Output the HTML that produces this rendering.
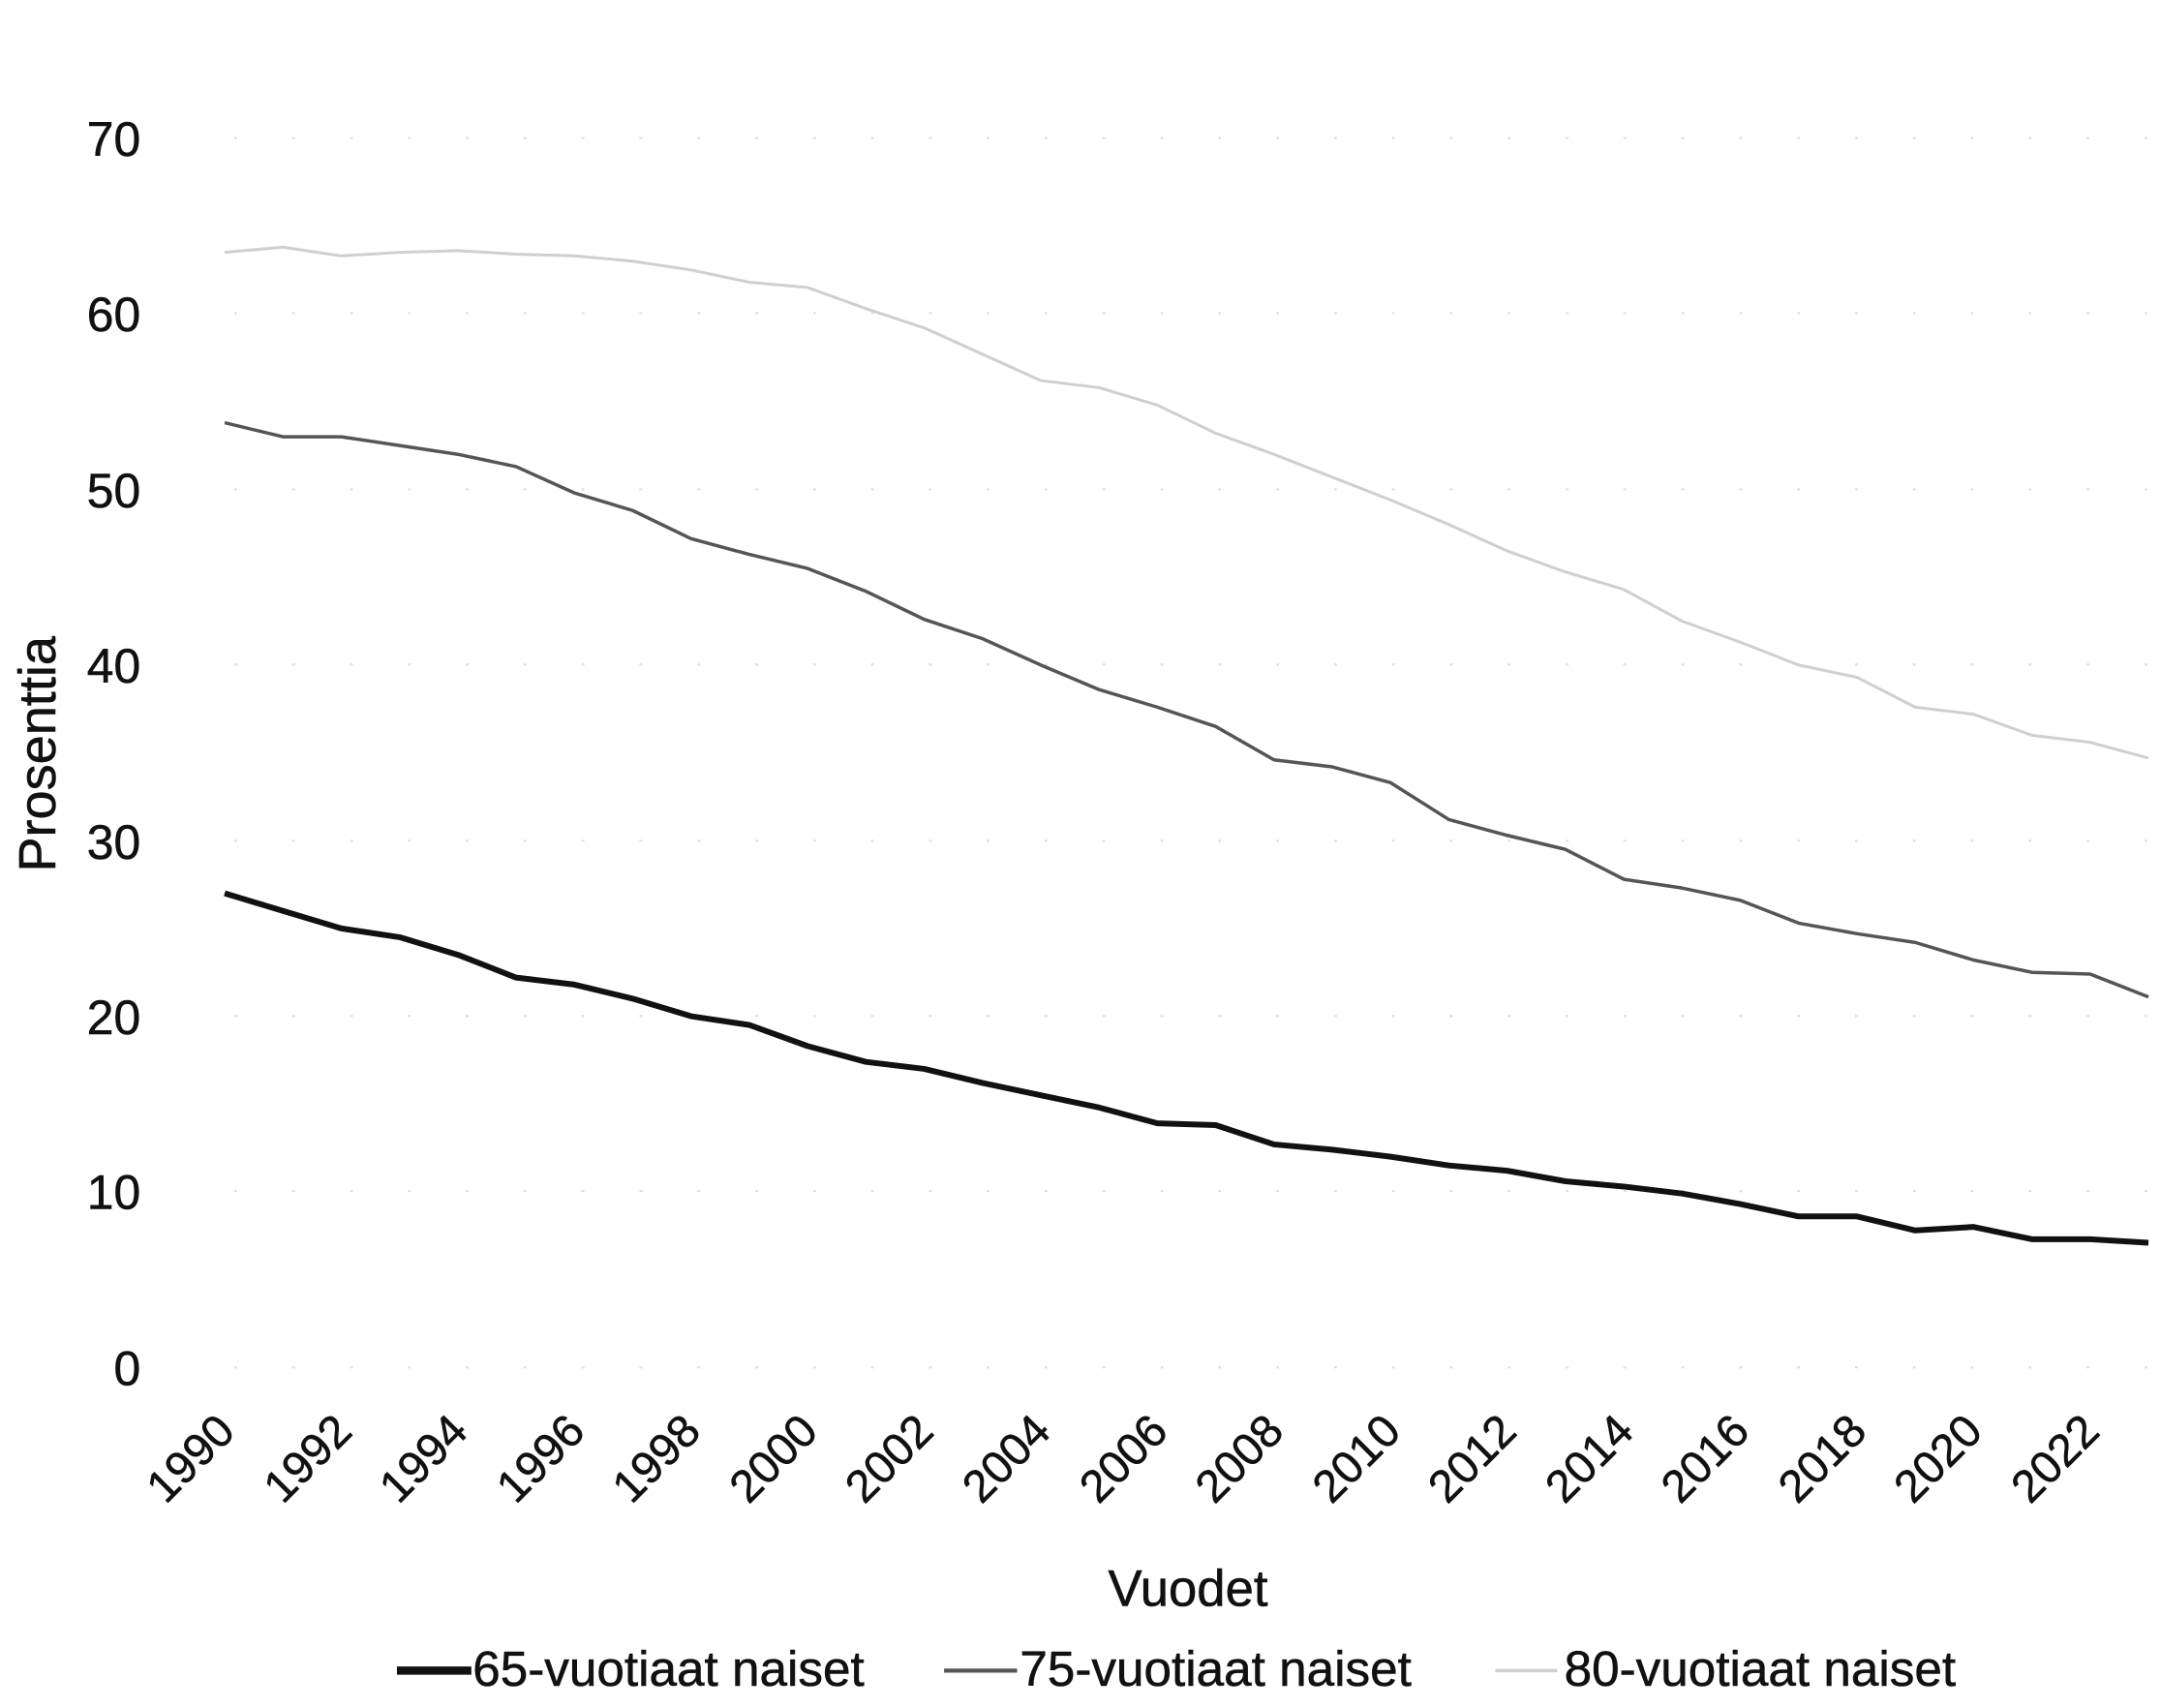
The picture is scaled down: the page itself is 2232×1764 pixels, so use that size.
<!DOCTYPE html>
<html><head><meta charset="utf-8"><style>
html,body{margin:0;padding:0;background:#fff;}
svg{display:block;}
text{font-family:"Liberation Sans",sans-serif;fill:#111;stroke:#111;stroke-width:0.4;}
</style></head><body>
<svg width="2232" height="1764" viewBox="0 0 1568 1239" xmlns="http://www.w3.org/2000/svg">
<rect width="1568" height="1239" fill="#fff"/>
<g stroke="#ddd" stroke-width="1.5" stroke-dasharray="2 40">
<line x1="170" y1="100" x2="1560" y2="100"/>
<line x1="170" y1="227" x2="1560" y2="227"/>
<line x1="170" y1="355" x2="1560" y2="355"/>
<line x1="170" y1="482" x2="1560" y2="482"/>
<line x1="170" y1="610" x2="1560" y2="610"/>
<line x1="170" y1="737" x2="1560" y2="737"/>
<line x1="170" y1="864" x2="1560" y2="864"/>
<line x1="170" y1="992" x2="1560" y2="992"/>
</g>
<g font-size="35" text-anchor="end">
<text x="102" y="113">70</text>
<text x="102" y="240">60</text>
<text x="102" y="368">50</text>
<text x="102" y="495">40</text>
<text x="102" y="623">30</text>
<text x="102" y="750">20</text>
<text x="102" y="877">10</text>
<text x="102" y="1005">0</text>
</g>
<text transform="translate(40,547) rotate(-90)" font-size="38" text-anchor="middle">Prosenttia</text>
<g font-size="33" text-anchor="end">
<text transform="translate(172,1040) rotate(-45)">1990</text>
<text transform="translate(257,1040) rotate(-45)">1992</text>
<text transform="translate(341,1040) rotate(-45)">1994</text>
<text transform="translate(426,1040) rotate(-45)">1996</text>
<text transform="translate(510,1040) rotate(-45)">1998</text>
<text transform="translate(595,1040) rotate(-45)">2000</text>
<text transform="translate(679,1040) rotate(-45)">2002</text>
<text transform="translate(764,1040) rotate(-45)">2004</text>
<text transform="translate(849,1040) rotate(-45)">2006</text>
<text transform="translate(933,1040) rotate(-45)">2008</text>
<text transform="translate(1018,1040) rotate(-45)">2010</text>
<text transform="translate(1102,1040) rotate(-45)">2012</text>
<text transform="translate(1187,1040) rotate(-45)">2014</text>
<text transform="translate(1271,1040) rotate(-45)">2016</text>
<text transform="translate(1356,1040) rotate(-45)">2018</text>
<text transform="translate(1440,1040) rotate(-45)">2020</text>
<text transform="translate(1525,1040) rotate(-45)">2022</text>
</g>
<text x="862" y="1165" font-size="37" text-anchor="middle">Vuodet</text>
<g transform="translate(163,992) scale(42.3,-12.74)" fill="none" stroke-linejoin="round">
<polyline vector-effect="non-scaling-stroke" stroke="#cfcfcf" stroke-width="3" points="0,63.5 1,63.8 2,63.3 3,63.5 4,63.6 5,63.4 6,63.3 7,63 8,62.5 9,61.8 10,61.5 11,60.3 12,59.2 13,57.7 14,56.2 15,55.8 16,54.8 17,53.2 18,52 19,50.7 20,49.4 21,48 22,46.5 23,45.3 24,44.3 25,42.5 26,41.3 27,40 28,39.3 29,37.6 30,37.2 31,36 32,35.6 33,34.7"/>
<polyline vector-effect="non-scaling-stroke" stroke="#555" stroke-width="3.5" points="0,53.8 1,53 2,53 3,52.5 4,52 5,51.3 6,49.8 7,48.8 8,47.2 9,46.3 10,45.5 11,44.2 12,42.6 13,41.5 14,40 15,38.6 16,37.6 17,36.5 18,34.6 19,34.2 20,33.3 21,31.2 22,30.3 23,29.5 24,27.8 25,27.3 26,26.6 27,25.3 28,24.7 29,24.2 30,23.2 31,22.5 32,22.4 33,21.1"/>
<polyline vector-effect="non-scaling-stroke" stroke="#111" stroke-width="6" points="0,27 1,26 2,25 3,24.5 4,23.5 5,22.2 6,21.8 7,21 8,20 9,19.5 10,18.3 11,17.4 12,17 13,16.2 14,15.5 15,14.8 16,13.9 17,13.8 18,12.7 19,12.4 20,12 21,11.5 22,11.2 23,10.6 24,10.3 25,9.9 26,9.3 27,8.6 28,8.6 29,7.8 30,8 31,7.3 32,7.3 33,7.1"/>
</g>
<line x1="288" y1="1212" x2="342" y2="1212" stroke="#111" stroke-width="6"/>
<text x="343" y="1223" font-size="36">65-vuotiaat naiset</text>
<line x1="685" y1="1212" x2="738" y2="1212" stroke="#555" stroke-width="3"/>
<text x="740" y="1223" font-size="36">75-vuotiaat naiset</text>
<line x1="1085" y1="1212" x2="1130" y2="1212" stroke="#cfcfcf" stroke-width="2.5"/>
<text x="1135" y="1223" font-size="36">80-vuotiaat naiset</text>
</svg>
</body></html>
